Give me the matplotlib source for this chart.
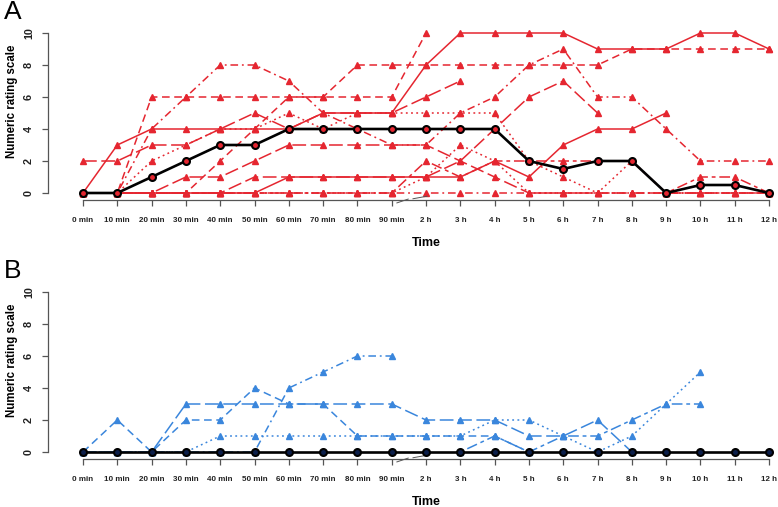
import matplotlib
matplotlib.use("Agg")
import matplotlib.pyplot as plt
import numpy as np

plt.rcParams['font.family'] = ['Liberation Sans', 'DejaVu Sans']

time_labels = ["0 min", "10 min", "20 min", "30 min", "40 min", "50 min", "60 min",
               "70 min", "80 min", "90 min", "2 h", "3 h", "4 h", "5 h", "6 h",
               "7 h", "8 h", "9 h", "10 h", "11 h", "12 h"]
N = None

# Panel A: individual patients (red) and median (black)
a_median = [0, 0, 1, 2, 3, 3, 4, 4, 4, 4, 4, 4, 4, 2, 1.5, 2, 2, 0, 0.5, 0.5, 0]
a_s1 = [0, 3, 4, 4, 4, 4, 4, 5, 5, 5, 8, 10, 10, 10, 10, 9, 9, 9, 10, 10, 9]
a_s2 = [0, 0, 6, 6, 6, 6, 6, 6, 8, 8, 8, 8, 8, 8, 8, 8, 9, 9, 9, 9, 9]
a_s3 = [0, 0, 4, 6, 8, 8, 7, 5, 4, 3, 3, 5, 6, 8, 9, 6, 6, 4, 2, 2, 2]
a_s4 = [2, 2, 3, 3, 4, 5, 4, 5, 5, 5, 6, 7, N, N, N, N, N, N, N, N, N]
a_s5 = [0, 0, 0, 0, 2, 4, 6, 6, 6, 6, 10, N, N, N, N, N, N, N, N, N, N]
a_s6 = [0, 0, 0, 1, 1, 2, 3, 3, 3, 3, 3, 2, 1, 0, 0, 0, 0, 0, 0, 0, 0]
a_s7 = [0, 0, 2, 3, 4, 4, 5, 4, 5, 5, 5, 5, 5, 2, 1, 0, 2, 0, 0, 0, 0]
a_s8 = [0, 0, 0, 0, 0, 1, 1, 1, 1, 1, 1, 2, 4, 6, 7, 5, N, N, N, N, N]
a_s9 = [0, 0, 0, 0, 0, 0, 1, 1, 1, 1, 1, 1, 2, 1, 3, 4, 4, 5, N, N, N]
a_s10 = [0, 0, 0, 0, 0, 0, 0, 0, 0, 0, 2, 1, 2, 2, 2, 2, 2, 0, 1, 1, 0]
a_s11 = [0, 0, 0, 0, 0, 0, 0, 0, 0, 0, 0, 0, 0, 0, 0, 0, 0, 0, 0, 0, 0]
a_s12 = [0, 0, 0, 0, 0, 0, 0, 0, 0, 0, 1, 3, 2, 0, 0, 0, 0, 0, 0, 0, 0]

# Panel B: individual patients (blue) and median (black)
b_median = [0] * 21
b_s1 = [0, 2, 0, 2, 2, 4, 3, 3, 1, 1, 1, 1, 1, 0, N, N, N, N, N, N, N]
b_s2 = [0, 0, 0, 3, 3, 3, 3, 3, 3, 3, 2, 2, 2, 1, 1, 2, 0, N, N, N, N]
b_s3 = [0, 0, 0, 0, 1, 1, 1, 1, 1, 1, 1, 1, 2, 2, 1, 0, 1, 3, 5, N, N]
b_s4 = [0, 0, 0, 0, 0, 0, 4, 5, 6, 6, N, N, N, N, N, N, N, N, N, N, N]
b_s5 = [N, N, N, N, N, N, N, N, N, N, N, 0, 1, 0, 1, 1, 2, 3, 3, N, N]

RED = "#E52630"
BLUE = "#3A86DC"
AX = "#555555"

dashed = (0, (5, 3))
longdash = (0, (9, 3))
dotdash = (0, (1.2, 2.5, 5, 2.5))
dotted = (0, (1.2, 2.2))
twodash = (0, (2.5, 2.5, 7, 2.5))

a_series = [(a_s1, '-'), (a_s2, dashed), (a_s3, dotdash), (a_s4, longdash),
            (a_s5, dashed), (a_s6, longdash), (a_s7, dotted), (a_s8, longdash),
            (a_s9, '-'), (a_s10, twodash), (a_s11, dotdash), (a_s12, dotted)]
b_series = [(b_s1, dashed), (b_s2, longdash), (b_s3, dotted), (b_s4, dotdash),
            (b_s5, twodash)]

W, H = 778, 507
fig = plt.figure(figsize=(W / 100, H / 100), dpi=100)

def to_arr(v):
    return np.array([np.nan if x is None else x for x in v], dtype=float)

def make_panel(bottom_px, series, color, median, face, letter, letter_base_px, ylab_px, time_px):
    ax = fig.add_axes([48 / W, 1 - bottom_px / H, (W - 48) / W, 175 / H])
    x = np.arange(len(time_labels))
    for vals, ls in series:
        ax.plot(x, to_arr(vals), color=color, lw=1.1, ls=ls, marker='^', ms=5,
                mec=color, mfc=color, zorder=2, clip_on=False)
    ax.plot(x, to_arr(median), color='black', lw=1.9, marker='o', ms=5,
            mec='black', mew=1.5, mfc=face, zorder=3, clip_on=False)
    ax.set_xlim(-1.02, 20.26)
    ax.set_ylim(-0.4375, 10.5)
    for s in ['top', 'right']:
        ax.spines[s].set_visible(False)
    ax.spines['left'].set_bounds(0, 10)
    ax.spines['bottom'].set_bounds(0, 20)
    for s in ['left', 'bottom']:
        ax.spines[s].set_color(AX)
        ax.spines[s].set_linewidth(0.9)
    ax.set_yticks([0, 2, 4, 6, 8, 10])
    ax.set_yticklabels(["0", "2", "4", "6", "8", "10"], rotation=90, va='center',
                       fontsize=7.8, fontweight='bold')
    ax.set_xticks(x)
    ax.set_xticklabels(time_labels, fontsize=5.8, fontweight='bold')
    ax.tick_params(axis='both', colors=AX, length=4, width=0.9, labelcolor='#222222')
    ax.tick_params(axis='x', pad=8)
    ax.tick_params(axis='y', pad=6)
    ax.patch.set_alpha(0)
    # broken axis marks
    ax.plot([9.15, 9.48], [-0.62, -0.38], color=AX, lw=0.7, clip_on=False)
    ax.plot([9.62, 10.03], [-0.36, -0.2], color=AX, lw=0.7, clip_on=False)
    fig.text(4 / W, 1 - letter_base_px / H, letter, fontsize=19, va='baseline', ha='left')
    fig.text(12 / W, 1 - ylab_px / H, "Numeric rating scale", rotation=90,
             fontsize=8.3, fontweight='bold', va='center', ha='center')
    fig.text(426 / W, 1 - time_px / H, "Time", fontsize=9, fontweight='bold',
             va='center', ha='center')
    return ax

make_panel(200, a_series, RED, a_median, RED, "A", 19, 101, 243)
make_panel(459, b_series, BLUE, b_median, "#0B1E4A", "B", 278, 360, 502)

fig.savefig("out.png", dpi=100)
